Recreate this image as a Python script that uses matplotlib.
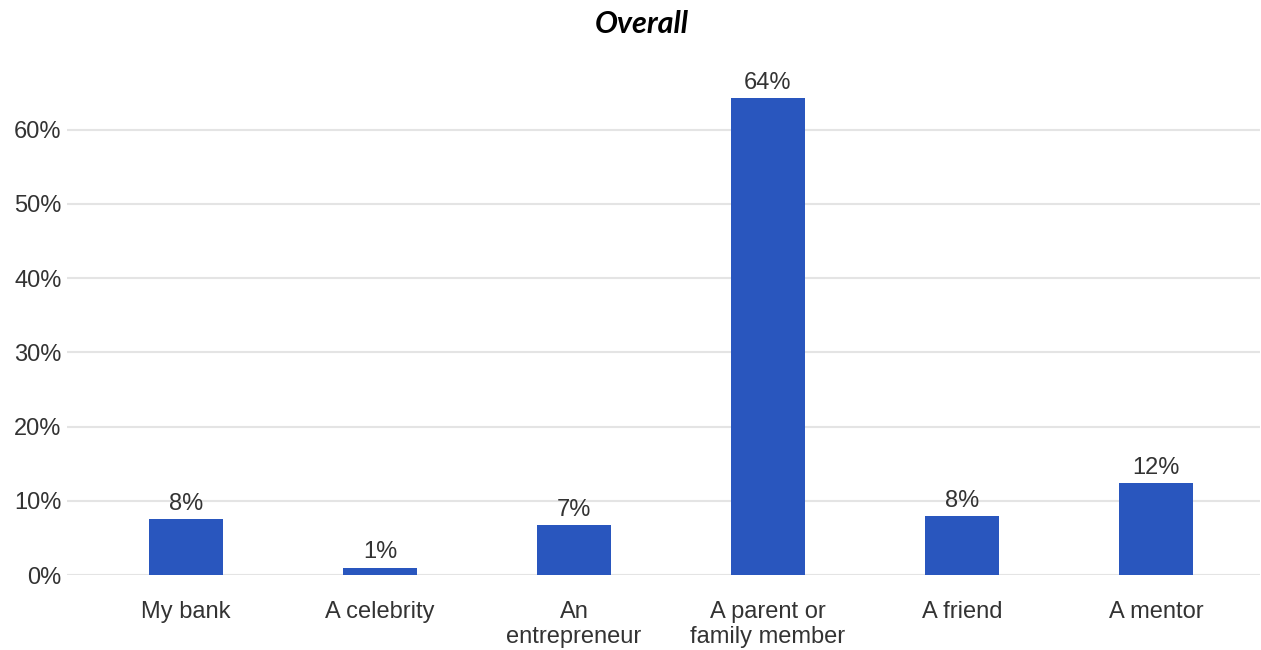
import matplotlib
matplotlib.use("Agg")
import matplotlib.pyplot as plt
from matplotlib.ticker import FuncFormatter

# survey shares, percent
categories = ["My bank", "A celebrity", "An\nentrepreneur",
              "A parent or\nfamily member", "A friend", "A mentor"]
shares = [7.5, 1.0, 6.7, 64.3, 7.9, 12.4]
yticks = [0, 10, 20, 30, 40, 50, 60]

bar_color = "#2956be"
text_color = "#333333"
grid_color = "#e4e4e4"

plt.rcParams["font.family"] = ["Liberation Sans", "DejaVu Sans"]

fig = plt.figure(figsize=(12.61, 6.5), dpi=100)
ax = fig.add_axes([67 / 1261, 75 / 650, 1193 / 1261, 515 / 650])

x = list(range(len(categories)))
bars = ax.bar(x, shares, width=0.38, color=bar_color, zorder=3)

for b, v in zip(bars, shares):
    ax.annotate(f"{v:.0f}%", (b.get_x() + b.get_width() / 2, v),
                xytext=(0, 3), textcoords="offset points",
                ha="center", va="bottom", fontsize=17, color=text_color)

ax.set_xlim(-0.613, 5.536)
ax.set_ylim(0, 69.4)
ax.set_xticks(x)
ax.set_xticklabels(categories, fontsize=17, color=text_color, linespacing=1.15)
ax.set_yticks(yticks)
ax.yaxis.set_major_formatter(FuncFormatter(lambda v, p: f"{v:.0f}%"))
ax.tick_params(axis="y", length=0, pad=4, labelsize=17, labelcolor=text_color)
ax.tick_params(axis="x", length=0, pad=19)

ax.grid(axis="y", color=grid_color, linewidth=1.5, zorder=0)
for s in ax.spines.values():
    s.set_visible(False)

fig.text(0.509, 0.963, "Overall", ha="center", va="center",
         fontsize=22, fontweight="bold", fontstyle="italic",
         family=["Lato", "DejaVu Sans"], color="#000000")

fig.savefig("out.png", dpi=100)
